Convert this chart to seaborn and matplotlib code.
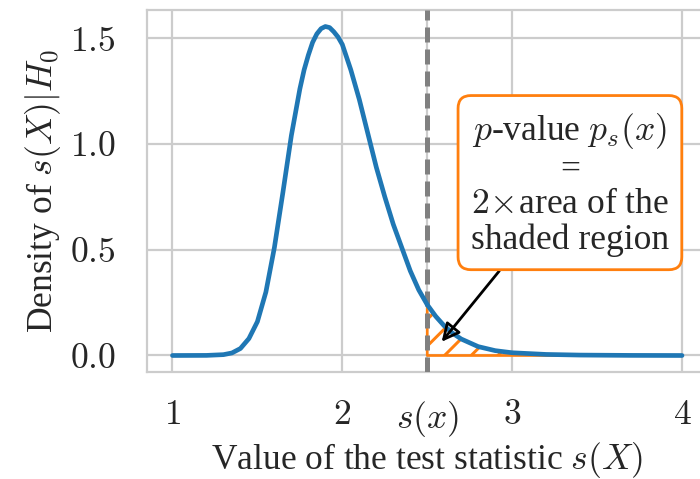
import numpy as np
import pandas as pd
import matplotlib
matplotlib.use("Agg")
import matplotlib.pyplot as plt
import seaborn as sns

# Density of the test statistic under H0
stat_x = [1.0, 1.2, 1.3, 1.35, 1.4, 1.45, 1.5, 1.55, 1.6, 1.65, 1.7, 1.75,
          1.775, 1.8, 1.825, 1.85, 1.875, 1.9, 1.925, 1.95, 1.975, 2.0,
          2.05, 2.1, 2.15, 2.2, 2.25, 2.3, 2.35, 2.4, 2.45, 2.5, 2.55, 2.6,
          2.65, 2.7, 2.8, 2.9, 3.0, 3.2, 3.4, 3.7, 4.0]
density = [0.0, 0.0005, 0.004, 0.012, 0.033, 0.08, 0.16, 0.30, 0.51, 0.77,
           1.04, 1.26, 1.35, 1.42, 1.48, 1.52, 1.545, 1.555, 1.55, 1.53,
           1.505, 1.47, 1.35, 1.21, 1.05, 0.89, 0.75, 0.62, 0.51, 0.40, 0.31,
           0.24, 0.185, 0.14, 0.105, 0.078, 0.042, 0.023, 0.013, 0.005,
           0.002, 0.0005, 0.0]

observed = 2.5
xtick_vals = [1, 2, observed, 3, 4]
xtick_labels = ["$1$", "$2$", "$s(x)$", "$3$", "$4$"]
ytick_vals = [0.0, 0.5, 1.0, 1.5]
ytick_labels = ["$0.0$", "$0.5$", "$1.0$", "$1.5$"]

df = pd.DataFrame({"x": stat_x, "y": density})

sns.set_theme(style="whitegrid")
plt.rcParams["font.family"] = "serif"
plt.rcParams["font.serif"] = ["Liberation Serif", "DejaVu Serif"]
plt.rcParams["mathtext.fontset"] = "cm"
plt.rcParams["hatch.linewidth"] = 2.7
plt.rcParams["grid.color"] = "#cccccc"
plt.rcParams["axes.edgecolor"] = "#cccccc"

FS = 32

fig = plt.figure(figsize=(8.75, 5.9875), dpi=80)
ax = fig.add_axes([147 / 700, 107 / 479, 560.5 / 700, 362 / 479])

orange = "#ff7f0e"
blue = "#1f77b4"

# shaded tail region
tail = df[df["x"] >= observed]
ax.fill_between(tail["x"], 0, tail["y"], facecolor="none", edgecolor=orange,
                hatch="/", linewidth=2.4, zorder=2)

ax.axvline(observed, color="#808080", linewidth=4.5, dashes=(3.0, 1.4), zorder=3)

sns.lineplot(data=df, x="x", y="y", ax=ax, color=blue, linewidth=4.2, zorder=4)

ax.annotate("$p$-value $p_s(x)$\n=\n$2\\!\\times\\!$area of the\nshaded region",
            xy=(2.585, 0.065), xytext=(3.34, 0.81),
            ha="center", va="center", fontsize=FS, linespacing=1.08,
            bbox=dict(boxstyle="round,pad=0.36", fc="white", ec=orange, lw=2.5),
            arrowprops=dict(arrowstyle="-|>", ec="black", fc="none", lw=2.5,
                            mutation_scale=34, shrinkA=0, shrinkB=0),
            zorder=5)

ax.set_xlim(0.85, 4.15)
ax.set_ylim(-0.078, 1.633)
ax.set_xticks(xtick_vals)
ax.set_xticklabels(xtick_labels)
ax.set_yticks(ytick_vals)
ax.set_yticklabels(ytick_labels)
ax.tick_params(axis="x", labelsize=FS, pad=18)
ax.tick_params(axis="y", labelsize=FS, pad=22)
ax.grid(True, linewidth=2)
for s in ax.spines.values():
    s.set_linewidth(2)

ax.set_xlabel("Value of the test statistic $s(X)$", fontsize=FS, labelpad=1)
ax.set_ylabel("Density of $s(X)|H_0$", fontsize=FS, labelpad=6)

fig.savefig("out.png", dpi=80)
